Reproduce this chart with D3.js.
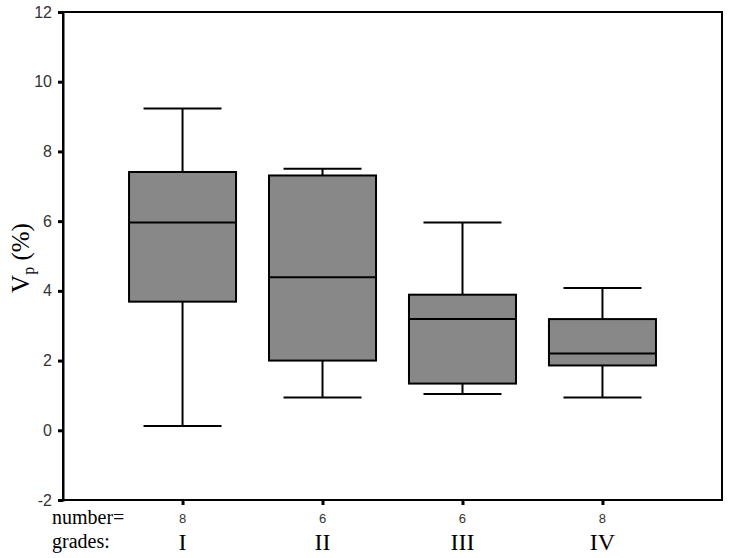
<!DOCTYPE html>
<html><head><meta charset="utf-8">
<script src="https://cdn.jsdelivr.net/npm/d3@7"></script>
<style>body{margin:0;background:#fff}</style>
</head><body>
<svg id="c" width="729" height="558"></svg>
<script>
const grades = ["I","II","III","IV"];
const counts = [8,6,6,8];
const whiskerLow = [0.12,0.94,1.04,0.94];
const q1 = [3.69,2.0,1.34,1.86];
const median = [5.96,4.39,3.19,2.2];
const q3 = [7.41,7.31,3.89,3.19];
const whiskerHigh = [9.23,7.5,5.96,4.08];
const yTicks = [-2,0,2,4,6,8,10,12];

const svg = d3.select("#c");
const L=63, R=722, T=12, B=500;
const x = d3.scalePoint().domain(grades).range([L,R]).padding(0.854);
const y = d3.scaleLinear().domain([-2,12]).range([B,T]);
const boxW = 107, capW = 78;

// frame
svg.append("rect").attr("x",L).attr("y",T).attr("width",R-L).attr("height",B-T)
  .attr("fill","none").attr("stroke","#000").attr("stroke-width",2);

const yAxis = svg.append("g").attr("transform",`translate(${L},0)`)
  .call(d3.axisLeft(y).tickValues(yTicks).tickSize(5).tickPadding(6).tickFormat(d => String(d)));
yAxis.select(".domain").attr("stroke-width",2);
yAxis.selectAll(".tick line").attr("stroke-width",3);
yAxis.selectAll("text").attr("font-family","Arial, 'Liberation Sans', sans-serif").attr("font-size",16).attr("fill","#333");

const xAxis = svg.append("g").attr("transform",`translate(0,${B})`)
  .call(d3.axisBottom(x).tickSize(5).tickFormat(""));
xAxis.select(".domain").remove();
xAxis.selectAll(".tick line").attr("stroke-width",3);

const g = svg.append("g");
grades.forEach((gr,i)=>{
  const cx = x(gr);
  const s = g.append("g").attr("stroke","#000").attr("stroke-width",2);
  s.append("line").attr("x1",cx).attr("x2",cx).attr("y1",y(whiskerHigh[i])).attr("y2",y(q3[i]));
  s.append("line").attr("x1",cx).attr("x2",cx).attr("y1",y(q1[i])).attr("y2",y(whiskerLow[i]));
  s.append("line").attr("x1",cx-capW/2).attr("x2",cx+capW/2).attr("y1",y(whiskerHigh[i])).attr("y2",y(whiskerHigh[i]));
  s.append("line").attr("x1",cx-capW/2).attr("x2",cx+capW/2).attr("y1",y(whiskerLow[i])).attr("y2",y(whiskerLow[i]));
  s.append("rect").attr("x",cx-boxW/2).attr("width",boxW).attr("y",y(q3[i])).attr("height",y(q1[i])-y(q3[i]))
    .attr("fill","#888888");
  s.append("line").attr("x1",cx-boxW/2).attr("x2",cx+boxW/2).attr("y1",y(median[i])).attr("y2",y(median[i]));
});

// bottom labels
const serif = "'Times New Roman', 'Liberation Serif', serif";
svg.append("text").attr("x",52).attr("y",524).attr("font-family",serif).attr("font-size",20).text("number=");
svg.append("text").attr("x",52).attr("y",548).attr("font-family",serif).attr("font-size",20).text("grades:");
grades.forEach((gr,i)=>{
  svg.append("text").attr("x",x(gr)).attr("y",523).attr("text-anchor","middle")
    .attr("font-family","Arial, 'Liberation Sans', sans-serif").attr("font-size",13).attr("fill","#333").text(counts[i]);
  svg.append("text").attr("x",x(gr)).attr("y",550).attr("text-anchor","middle")
    .attr("font-family",serif).attr("font-size",24).text(gr);
});

// y label
const yl = svg.append("text").attr("transform","translate(29,258) rotate(-90)").attr("text-anchor","middle")
  .attr("font-family",serif).attr("font-size",25);
yl.append("tspan").text("V");
yl.append("tspan").attr("font-size",16).attr("dy",5).text("p");
yl.append("tspan").attr("dy",-5).text(" (%)");
</script>
</body></html>
